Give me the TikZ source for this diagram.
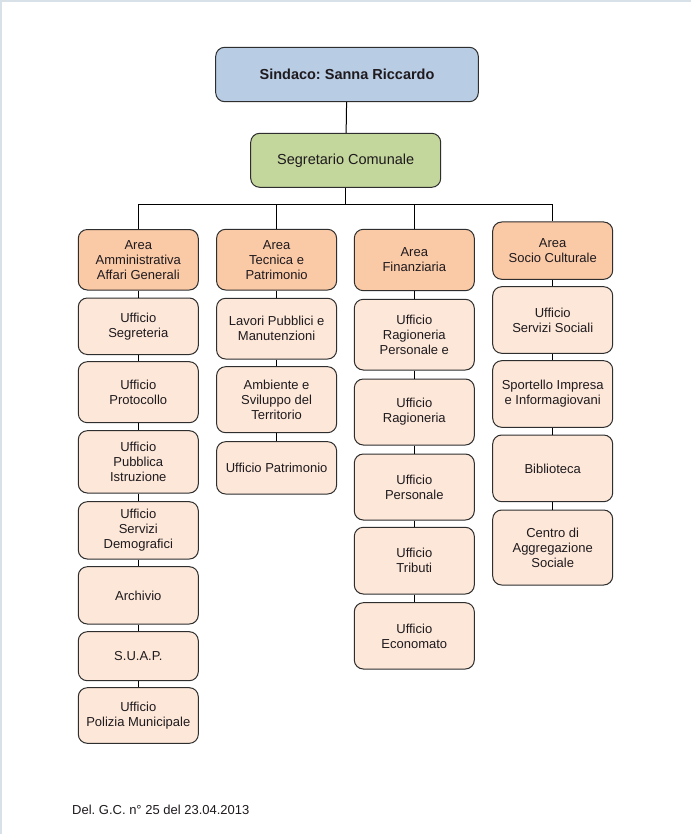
\documentclass[tikz,border=0pt]{standalone}
\usepackage{fontspec}
\setmainfont{Liberation Sans}
\frenchspacing
\definecolor{sindc}{HTML}{B8CCE4}
\definecolor{segrc}{HTML}{C3D69B}
\definecolor{areac}{HTML}{FAC9A6}
\definecolor{subc}{HTML}{FDE7D8}
\definecolor{edgec}{HTML}{2E2E2E}
\definecolor{txtc}{HTML}{1E1A1E}
\definecolor{framec}{HTML}{D8E0E8}
\tikzset{
  box/.style={draw=edgec, line width=1pt, rounded corners=9pt, align=center,
    inner sep=2pt, text=txtc, font=\fontsize{13}{15}\selectfont},
  topbox/.style={box, font=\fontsize{14.5}{17}\selectfont},
  areabox/.style={box, fill=areac, minimum width=120pt},
  subbox/.style={box, fill=subc, minimum width=120pt},
  link/.style={draw=black, line width=1pt},
}
\begin{document}
\begin{tikzpicture}[x=1pt,y=-1pt]
\useasboundingbox (0,0) rectangle (691,834);
\fill[white] (0,0) rectangle (691,834);
\draw[framec, line width=2pt] (1,834) -- (1,1) -- (691,1);

\node[topbox, fill=sindc, minimum width=262.6pt, minimum height=54.4pt, font=\fontsize{14.5}{17}\selectfont\bfseries] (sind) at (347,74.5) {Sindaco: Sanna Riccardo};
\node[topbox, fill=segrc, minimum width=190pt, minimum height=54pt] (segr) at (345.7,160.3) {Segretario Comunale};
\coordinate (bus) at (345.7,204.3);

% column 1
\node[areabox, minimum height=60.5pt] (a1) at (138.3,259.75) {Area\\Amministrativa\\Affari Generali};
\node[subbox, minimum height=56.5pt] (c1a) at (138.3,326.25) {Ufficio\\Segreteria};
\node[subbox, minimum height=61pt] (c1b) at (138.3,392.2) {Ufficio\\Protocollo};
\node[subbox, minimum height=62.3pt] (c1c) at (138.3,461.85) {Ufficio\\Pubblica\\Istruzione};
\node[subbox, minimum height=57.3pt] (c1d) at (138.3,530.35) {Ufficio\\Servizi\\Demografici};
\node[subbox, minimum height=57.3pt] (c1e) at (138.3,595.35) {Archivio};
\node[subbox, minimum height=49pt] (c1f) at (138.3,656.2) {S.U.A.P.};
\node[subbox, minimum height=55.6pt] (c1g) at (138.3,715.5) {Ufficio\\Polizia Municipale};

% column 2
\node[areabox, minimum height=60.7pt] (a2) at (276.6,259.65) {Area\\Tecnica e\\Patrimonio};
\node[subbox, minimum height=60.7pt] (c2a) at (276.6,328.65) {Lavori Pubblici e\\Manutenzioni};
\node[subbox, minimum height=66pt] (c2b) at (276.6,399.7) {Ambiente e\\Sviluppo del\\Territorio};
\node[subbox, minimum height=52.3pt] (c2c) at (276.6,467.85) {Ufficio Patrimonio};

% column 3
\node[areabox, minimum height=61.4pt] (a3) at (414.3,260) {Area\\Finanziaria};
\node[subbox, minimum height=70.7pt] (c3a) at (414.3,334.65) {Ufficio\\Ragioneria\\Personale e};
\node[subbox, minimum height=66pt] (c3b) at (414.3,412) {Ufficio\\Ragioneria};
\node[subbox, minimum height=66pt] (c3c) at (414.3,487) {Ufficio\\Personale};
\node[subbox, minimum height=66.7pt] (c3d) at (414.3,560.65) {Ufficio\\Tributi};
\node[subbox, minimum height=66.3pt] (c3e) at (414.3,635.85) {Ufficio\\Economato};

% column 4
\node[areabox, minimum height=57.3pt] (a4) at (552.7,250.65) {Area\\Socio Culturale};
\node[subbox, minimum height=66.6pt] (c4a) at (552.7,320) {Ufficio\\Servizi Sociali};
\node[subbox, minimum height=66.6pt] (c4b) at (552.7,394) {Sportello Impresa\\e Informagiovani};
\node[subbox, minimum height=66.7pt] (c4c) at (552.7,468.35) {Biblioteca};
\node[subbox, minimum height=75pt] (c4d) at (552.7,547.5) {Centro di\\Aggregazione\\Sociale};

% connectors
\draw[link] (sind) -- (segr);
\draw[link] (segr) -- (bus);
\draw[link] (a1) |- (bus) -| (a4);
\draw[link] (a2) -- (a2 |- bus);
\draw[link] (a3) -- (a3 |- bus);
\draw[link] (a1) -- (c1a) -- (c1b) -- (c1c) -- (c1d) -- (c1e) -- (c1f) -- (c1g);
\draw[link] (a2) -- (c2a) -- (c2b) -- (c2c);
\draw[link] (a3) -- (c3a) -- (c3b) -- (c3c) -- (c3d) -- (c3e);
\draw[link] (a4) -- (c4a) -- (c4b) -- (c4c) -- (c4d);

\node[anchor=base west, inner sep=0pt, text=txtc, font=\fontsize{13}{15}\selectfont] (foot) at (72,814) {Del. G.C. n° 25 del 23.04.2013};
\end{tikzpicture}
\end{document}
